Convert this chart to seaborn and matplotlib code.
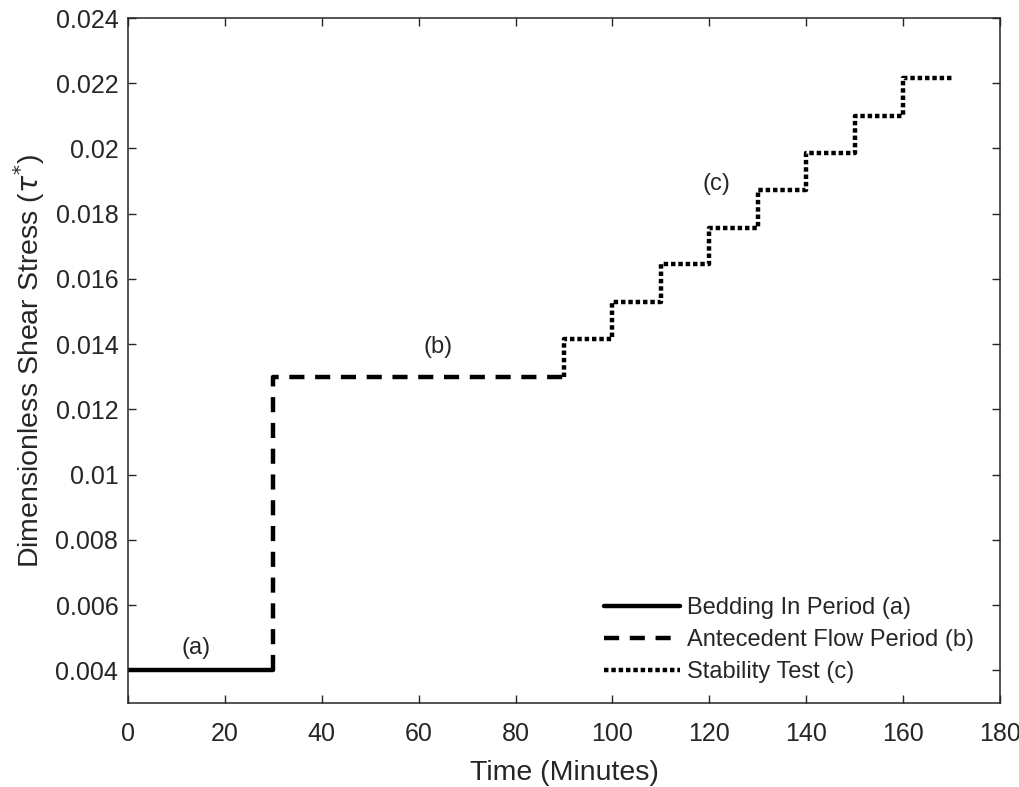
import matplotlib
matplotlib.use("Agg")
import matplotlib.pyplot as plt
import matplotlib.ticker as mticker
import seaborn as sns
import numpy as np

# data
bedding_t = [0, 30]
bedding_tau = [0.004, 0.004]

antecedent_t = [30, 30, 90]
antecedent_tau = [0.004, 0.013, 0.013]

stability_t = [90, 90, 100, 110, 120, 130, 140, 150, 160, 170]
stability_tau = [0.013, 0.01417, 0.0153, 0.01647, 0.01757, 0.01873,
                 0.01987, 0.0210, 0.02216, 0.02216]

labels = ["Bedding In Period (a)", "Antecedent Flow Period (b)", "Stability Test (c)"]

sns.set_style("ticks")
plt.rcParams["font.family"] = ["Liberation Sans", "DejaVu Sans"]

fig = plt.figure(figsize=(10.19, 7.87), dpi=100)
ax = fig.add_axes([0.1256, 0.1067, 0.8558, 0.8704])

lw = 3.2
sns.lineplot(x=bedding_t, y=bedding_tau, ax=ax, color="black", lw=lw,
             sort=False, estimator=None, label=labels[0])
sns.lineplot(x=antecedent_t, y=antecedent_tau, ax=ax, color="black", lw=lw,
             sort=False, estimator=None, drawstyle="steps-post",
             linestyle=(0, (3.4, 2.4)), label=labels[1])
sns.lineplot(x=stability_t, y=stability_tau, ax=ax, color="black", lw=lw,
             sort=False, estimator=None, drawstyle="steps-post",
             linestyle=(0, (1.0, 0.65)), label=labels[2])

# period labels
ax.text(14, 0.0047, "(a)", fontsize=17, ha="center", va="center")
ax.text(64, 0.0139, "(b)", fontsize=17, ha="center", va="center")
ax.text(121.5, 0.0189, "(c)", fontsize=17, ha="center", va="center")

ax.set_xlim(0, 180)
ax.set_ylim(0.003, 0.024)
ax.set_xticks(np.arange(0, 181, 20))
ax.set_yticks(np.arange(0.004, 0.02401, 0.002))
ax.yaxis.set_major_formatter(mticker.FuncFormatter(lambda v, p: "%g" % round(v, 4)))
ax.tick_params(direction="in", top=True, right=True, labelsize=18,
               length=6, width=1.0, colors="#262626")
ax.tick_params(axis="x", pad=14)
ax.tick_params(axis="y", pad=7)
for s in ax.spines.values():
    s.set_linewidth(1.1)
    s.set_color("#262626")

ax.set_xlabel("Time (Minutes)", fontsize=20.5, color="#262626", labelpad=10)
ax.set_ylabel(r"Dimensionless Shear Stress ($\tau^{*}$)", fontsize=20.5,
              color="#262626", labelpad=6)

leg = ax.legend(loc="lower right", bbox_to_anchor=(0.993, 0.0), frameon=False,
                fontsize=17, handlelength=3.2, handletextpad=0.3,
                labelspacing=0.42, borderaxespad=0.45)

plt.savefig("out.png", dpi=100)
